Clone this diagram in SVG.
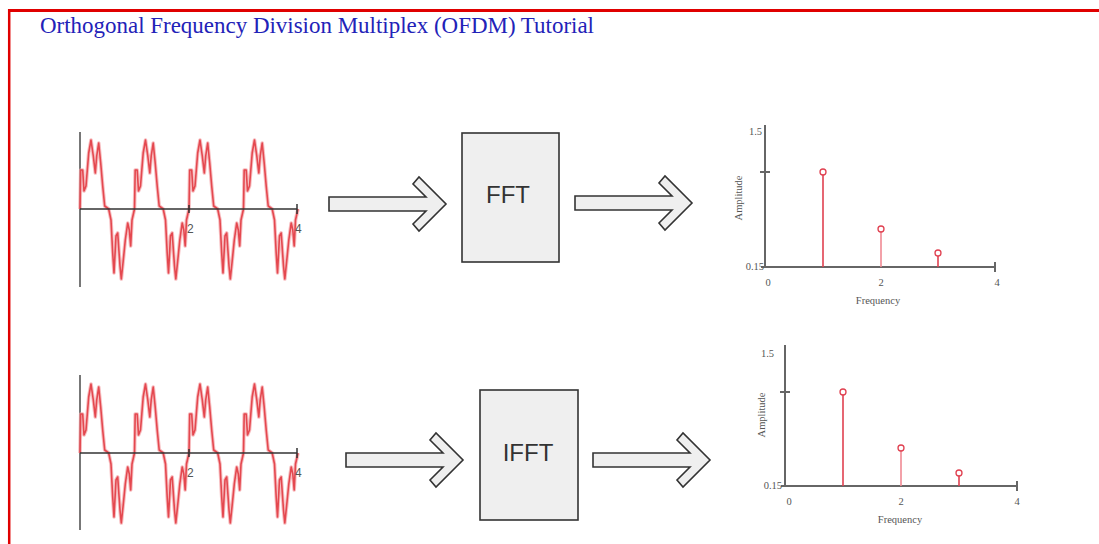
<svg xmlns="http://www.w3.org/2000/svg" xmlns:xlink="http://www.w3.org/1999/xlink" width="1099" height="544" viewBox="0 0 1099 544">
  <style>
    .title { font-family: "Liberation Serif", "Times New Roman", serif; font-size: 23px; fill: #2222b8; }
    .box { fill: #efefef; stroke: #333; stroke-width: 1.6; }
    .boxtxt { font-family: "Liberation Sans", Arial, sans-serif; font-size: 24px; fill: #333; text-anchor: middle; }
    .arrow { fill: #efefef; stroke: #333; stroke-width: 1.6; stroke-linejoin: miter; }
    .wave { fill: none; stroke: #e4484f; stroke-width: 1.6; stroke-linejoin: round; }
    .wavehalo { fill: none; stroke: #f4a0a4; stroke-width: 3.6; stroke-linejoin: round; opacity: 0.7; }
    .yax { stroke: #777; stroke-width: 2; fill: none; }
    .xax { stroke: #333; stroke-width: 1.5; fill: none; }
    .sax { stroke: #666; stroke-width: 2; fill: none; }
    .wlab { font-family: "Liberation Sans", Arial, sans-serif; font-size: 12px; fill: #555; }
    .slab { font-family: "Liberation Serif", "Times New Roman", serif; font-size: 10.5px; fill: #555; }
    .stem { stroke: #e04050; stroke-width: 1.6; }
    .stem2 { stroke: #f08a94; stroke-width: 1.6; }
    .dot { fill: none; stroke: #e04050; stroke-width: 1.3; }
  </style>
  <defs>
    <path id="period" d="M0,0 L0.7,-39 L2.7,-39 L4,-18 L6,-23 L8.7,-56 L11,-69 L13.3,-53 L15.3,-36 L16.7,-53 L18.7,-66 L20.7,-46 L22.7,-23 L24.7,-3 L28.7,0 L31,11 L32.7,44 L34,64 L36,27 L37.7,24 L40,57 L41.3,70 L43.3,51 L45.3,31 L47.7,14 L49.3,21 L50.7,37 L52,11 L54.5,0"/>
    <path id="arrowshape" d="M-117,-7 L-20,-7 L-33,-20 L-27,-27 L0,0 L-27,27 L-33,20 L-20,7 L-117,7 Z"/>
  </defs>

  <rect width="1099" height="544" fill="#ffffff"/>
  <g id="frame">
    <line x1="8" y1="10.5" x2="1099" y2="10.5" stroke="#e00000" stroke-width="3"/>
    <line x1="9.2" y1="9" x2="9.2" y2="544" stroke="#e00000" stroke-width="2.5"/>
  </g>

  <g id="title">
    <text class="title" x="40" y="33" textLength="554" lengthAdjust="spacingAndGlyphs">Orthogonal Frequency Division Multiplex (OFDM) Tutorial</text>
  </g>

  <g id="wave-top">
    <line class="yax" x1="80" y1="132" x2="80" y2="287"/>
    <g transform="translate(80,209)">
      <use xlink:href="#period" class="wavehalo"/>
      <use xlink:href="#period" class="wavehalo" x="54.5"/>
      <use xlink:href="#period" class="wavehalo" x="109"/>
      <use xlink:href="#period" class="wavehalo" x="163.5"/>
      <use xlink:href="#period" class="wave"/>
      <use xlink:href="#period" class="wave" x="54.5"/>
      <use xlink:href="#period" class="wave" x="109"/>
      <use xlink:href="#period" class="wave" x="163.5"/>
    </g>
    <line class="xax" x1="80" y1="209" x2="297" y2="209"/>
    <line class="xax" x1="189" y1="205" x2="189" y2="213"/>
    <line class="xax" x1="297" y1="204" x2="297" y2="214"/>
    <text class="wlab" x="187" y="233">2</text>
    <text class="wlab" x="295" y="233">4</text>
  </g>

  <g id="fft-box">
    <rect class="box" x="462" y="133" width="97" height="129"/>
    <text class="boxtxt" x="508" y="203">FFT</text>
  </g>

  <g id="spectrum-top">
    <line class="sax" x1="765" y1="125" x2="765" y2="267"/>
    <line class="sax" x1="765" y1="267" x2="995" y2="267"/>
    <line class="sax" x1="760" y1="172" x2="770" y2="172"/>
    <line class="sax" x1="995" y1="262" x2="995" y2="272"/>
    <line class="sax" x1="761" y1="267" x2="765" y2="267"/>
    <text class="slab" x="762" y="135" text-anchor="end">1.5</text>
    <text class="slab" x="764" y="270" text-anchor="end">0.15</text>
    <text class="slab" x="768" y="286" text-anchor="middle">0</text>
    <text class="slab" x="881" y="286" text-anchor="middle">2</text>
    <text class="slab" x="997" y="286" text-anchor="middle">4</text>
    <text class="slab" x="878" y="304" text-anchor="middle">Frequency</text>
    <text class="slab" transform="translate(742,198) rotate(-90)" text-anchor="middle">Amplitude</text>
    <line class="stem" x1="823" y1="267" x2="823" y2="175"/>
    <line class="stem2" x1="881" y1="267" x2="881" y2="232"/>
    <line class="stem" x1="938" y1="267" x2="938" y2="256"/>
    <circle class="dot" cx="823" cy="172" r="3"/>
    <circle class="dot" cx="881" cy="229" r="3"/>
    <circle class="dot" cx="938" cy="253" r="3"/>
  </g>

  <g id="wave-bottom">
    <line class="yax" x1="80" y1="375" x2="80" y2="530"/>
    <g transform="translate(80,453)">
      <use xlink:href="#period" class="wavehalo"/>
      <use xlink:href="#period" class="wavehalo" x="54.5"/>
      <use xlink:href="#period" class="wavehalo" x="109"/>
      <use xlink:href="#period" class="wavehalo" x="163.5"/>
      <use xlink:href="#period" class="wave"/>
      <use xlink:href="#period" class="wave" x="54.5"/>
      <use xlink:href="#period" class="wave" x="109"/>
      <use xlink:href="#period" class="wave" x="163.5"/>
    </g>
    <line class="xax" x1="80" y1="453" x2="297" y2="453"/>
    <line class="xax" x1="189" y1="449" x2="189" y2="457"/>
    <line class="xax" x1="297" y1="448" x2="297" y2="458"/>
    <text class="wlab" x="187" y="477">2</text>
    <text class="wlab" x="295" y="477">4</text>
  </g>

  <g id="ifft-box">
    <rect class="box" x="480" y="390" width="98" height="130"/>
    <text class="boxtxt" x="528" y="461">IFFT</text>
  </g>

  <g id="spectrum-bottom">
    <line class="sax" x1="785" y1="345" x2="785" y2="486"/>
    <line class="sax" x1="785" y1="486" x2="1017" y2="486"/>
    <line class="sax" x1="780" y1="392" x2="790" y2="392"/>
    <line class="sax" x1="1017" y1="481" x2="1017" y2="491"/>
    <line class="sax" x1="781" y1="486" x2="785" y2="486"/>
    <text class="slab" x="774" y="357" text-anchor="end">1.5</text>
    <text class="slab" x="782" y="489" text-anchor="end">0.15</text>
    <text class="slab" x="789" y="505" text-anchor="middle">0</text>
    <text class="slab" x="901" y="505" text-anchor="middle">2</text>
    <text class="slab" x="1017" y="505" text-anchor="middle">4</text>
    <text class="slab" x="900" y="523" text-anchor="middle">Frequency</text>
    <text class="slab" transform="translate(765,415) rotate(-90)" text-anchor="middle">Amplitude</text>
    <line class="stem" x1="843" y1="486" x2="843" y2="395"/>
    <line class="stem2" x1="901" y1="486" x2="901" y2="451"/>
    <line class="stem" x1="959" y1="486" x2="959" y2="476"/>
    <circle class="dot" cx="843" cy="392" r="3"/>
    <circle class="dot" cx="901" cy="448" r="3"/>
    <circle class="dot" cx="959" cy="473" r="3"/>
  </g>

  <g id="connectors">
    <use xlink:href="#arrowshape" class="arrow" transform="translate(446,204)"/>
    <use xlink:href="#arrowshape" class="arrow" transform="translate(692,203)"/>
    <use xlink:href="#arrowshape" class="arrow" transform="translate(463,460)"/>
    <use xlink:href="#arrowshape" class="arrow" transform="translate(710,460)"/>
  </g>
</svg>
